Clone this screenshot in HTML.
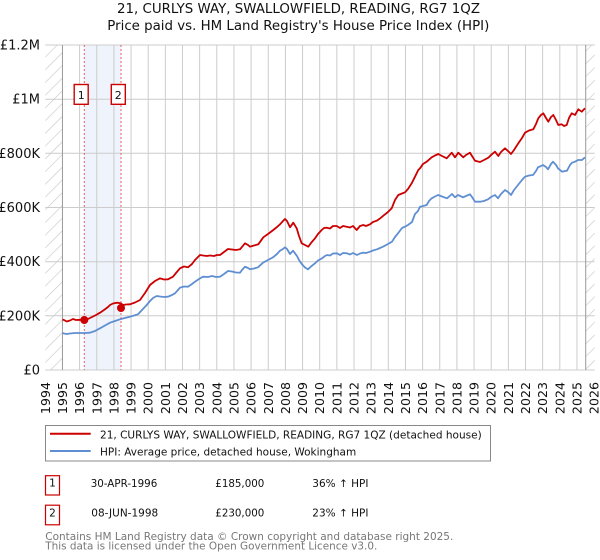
<!DOCTYPE html>
<html><head><meta charset="utf-8"><style>
html,body{margin:0;padding:0;background:#fff;}
svg{display:block;font-family:"DejaVu Sans","Liberation Sans",sans-serif;}
</style></head><body>
<svg width="600" height="560" viewBox="0 0 600 560" xmlns="http://www.w3.org/2000/svg">
<defs>
<pattern id="hatch" patternUnits="userSpaceOnUse" width="9" height="9" patternTransform="rotate(45)">
<line x1="0" y1="0" x2="0" y2="9" stroke="#c4c4c4" stroke-width="1.2"/>
</pattern>
</defs>
<text x="298.5" y="13" font-size="13" text-anchor="middle" fill="#111" textLength="363" lengthAdjust="spacingAndGlyphs">21, CURLYS WAY, SWALLOWFIELD, READING, RG7 1QZ</text>
<text x="298.3" y="30" font-size="13" text-anchor="middle" fill="#111" textLength="382" lengthAdjust="spacingAndGlyphs">Price paid vs. HM Land Registry's House Price Index (HPI)</text>

<!-- hatched regions -->
<rect x="45.3" y="45" width="17" height="325" fill="url(#hatch)"/>
<rect x="585.7" y="45" width="9" height="325" fill="url(#hatch)"/>
<!-- shaded sale region -->
<rect x="84.3" y="45" width="36.7" height="325" fill="#eef3fc"/>

<!-- gridlines -->
<g stroke="#cccccc" stroke-width="1">
<line x1="45.3" y1="45" x2="594.7" y2="45"/>
<line x1="45.3" y1="99.2" x2="594.7" y2="99.2"/>
<line x1="45.3" y1="153.3" x2="594.7" y2="153.3"/>
<line x1="45.3" y1="207.5" x2="594.7" y2="207.5"/>
<line x1="45.3" y1="261.7" x2="594.7" y2="261.7"/>
<line x1="45.3" y1="315.8" x2="594.7" y2="315.8"/>
<line x1="45.3" y1="370" x2="594.7" y2="370"/>
<line x1="79.6" y1="45" x2="79.6" y2="370"/>
<line x1="96.75" y1="45" x2="96.75" y2="370"/>
<line x1="113.9" y1="45" x2="113.9" y2="370"/>
<line x1="131.05" y1="45" x2="131.05" y2="370"/>
<line x1="148.2" y1="45" x2="148.2" y2="370"/>
<line x1="165.35" y1="45" x2="165.35" y2="370"/>
<line x1="182.5" y1="45" x2="182.5" y2="370"/>
<line x1="199.65" y1="45" x2="199.65" y2="370"/>
<line x1="216.8" y1="45" x2="216.8" y2="370"/>
<line x1="233.95" y1="45" x2="233.95" y2="370"/>
<line x1="251.1" y1="45" x2="251.1" y2="370"/>
<line x1="268.25" y1="45" x2="268.25" y2="370"/>
<line x1="285.4" y1="45" x2="285.4" y2="370"/>
<line x1="302.55" y1="45" x2="302.55" y2="370"/>
<line x1="319.7" y1="45" x2="319.7" y2="370"/>
<line x1="336.85" y1="45" x2="336.85" y2="370"/>
<line x1="354" y1="45" x2="354" y2="370"/>
<line x1="371.15" y1="45" x2="371.15" y2="370"/>
<line x1="388.3" y1="45" x2="388.3" y2="370"/>
<line x1="405.45" y1="45" x2="405.45" y2="370"/>
<line x1="422.6" y1="45" x2="422.6" y2="370"/>
<line x1="439.75" y1="45" x2="439.75" y2="370"/>
<line x1="456.9" y1="45" x2="456.9" y2="370"/>
<line x1="474.05" y1="45" x2="474.05" y2="370"/>
<line x1="491.2" y1="45" x2="491.2" y2="370"/>
<line x1="508.35" y1="45" x2="508.35" y2="370"/>
<line x1="525.5" y1="45" x2="525.5" y2="370"/>
<line x1="542.65" y1="45" x2="542.65" y2="370"/>
<line x1="559.8" y1="45" x2="559.8" y2="370"/>
<line x1="576.95" y1="45" x2="576.95" y2="370"/>
</g>
<line x1="62.45" y1="45" x2="62.45" y2="370" stroke="#999" stroke-width="1"/>
<line x1="585.7" y1="45" x2="585.7" y2="370" stroke="#999" stroke-width="1"/>

<!-- sale lines -->
<line x1="84.3" y1="45" x2="84.3" y2="370" stroke="#e86060" stroke-width="1" stroke-dasharray="2,2"/>
<line x1="121" y1="45" x2="121" y2="370" stroke="#e86060" stroke-width="1" stroke-dasharray="2,2"/>

<!-- HPI line -->
<polyline fill="none" stroke="#5f8fd2" stroke-width="1.8" stroke-linejoin="round" points="62.5,333 64,333.5 66.7,334 70,333.5 75,333 80,333 85,333 90,332.7 95,331 100,328.3 105,325.5 110,322.7 115,321 120,319.3 125,318 130,316.7 134,315.5 138,314.3 142,310 146.7,305 150,301 153,298 156.7,296 160,296.5 164,297 168,296.7 172,295 175,293.3 178,290 180,287.7 184,286.5 188,286.7 192,284 195,281.7 199,279 203,276.7 208,277 212,276 216,277 220,276.7 224,274 228,271 232,271.5 236,272.5 240,272.7 242,270 245,266.7 248,268 250,269.3 254,268.5 258,267.3 263,262.7 268,260 273,257.3 277,254 280,250.7 283,249 285,247.3 287,249 290,254 293,250.7 297,256 299,260 302,264.3 305,267.5 308,269.3 311,266.5 315,263.3 318,260.5 322,258.3 325,256 327,255 330,255.5 333,253.5 337,253.3 340,255 343,253 347,253.3 350,254.5 353,253 357,255 360,253.5 363,252.7 366,253 370,251.7 373,250.5 377,249.3 380,248 383,246.7 388,244 392,241.7 395,237 398,233.3 402,228 405,226.7 408,225 412,222 415,214 418,211 420,206.7 423,206 426.7,205 429,201 431.7,198.3 435,196.5 438,195 442,196.5 447,198.3 452,194 455,197.3 458,195 463,197.3 466,196 470,194.3 472,197 475,201.7 480,201.7 484,201 488,199.3 491,197 495,195 498,198.3 501,194 505,190 508,192 511,195 514,190 518,185 522,180 525,176.7 529,175.5 533,175 536,171 538,167.3 541,166 543,165 546,167 548,169.3 551,164 553,161.7 556,165 558,168.3 562,171.7 565,171 567,170.7 570,165 572,162.7 575,161.7 578,160 582,160 585,157.3"/>

<!-- price paid line -->
<polyline fill="none" stroke="#cc0000" stroke-width="1.8" stroke-linejoin="round" points="62.5,319.5 64,320 66.7,321.5 70,320.5 73,319 76,320 80,319.8 84.3,320 88,319 92,317 96,315 100,312.7 104,310 108,307 110,305 113,303.5 116.7,302.7 119,303 121,303.5 123,305 126,304.5 130,304.3 135,302.5 140,300 145,293 150,285 155,281 160,278.3 164,279.5 168,279.3 173,276.7 176,273 180,268.3 184,266.5 188,267.3 192,264 195,260 200,255 203,255.5 206.7,256 210,255.5 214,256 217,255 220,255 224,252 228,249 232,249.5 236,250 240,249.3 245,243.3 248,245 250,246.7 254,245.5 258.3,244.3 263.3,237.3 268,234 273.3,230 277,227 280,224.3 283,221 285,219 287,221 290,227.3 293.3,222.7 296.7,228.3 299,236 301.7,243.3 305,245 308.3,246.7 311,243 315,238.3 318,234 321.7,230 324,228 326.7,227.7 330,228.5 333,226 336.7,226 340,228 343,226 346.7,226.7 350,227.5 353,226 356.7,230 360,226 363.3,225 366,226 370,224.3 373,222 376.7,220.7 380,218.5 383.3,215.7 388,212 391.7,208.3 395,200 398.3,195 402,193.5 405,192.3 408,189 411.7,183.3 415,176.7 418.3,170 420,168.3 423,164 426.7,161.7 431.7,157.3 435,155.5 438.3,154 442,156 446.7,158.3 451.7,152.7 455,157.3 458.3,152.7 463.3,157.3 466,155 470,152.7 472,156 475,160.7 480,162 484,160 488.3,157.7 491,155 495,151.7 498.3,156 501,152 505,148.3 508,151 511,154 514,150 518.3,143.3 522,138 525,132.7 529,130.5 533.3,129.3 536,124 538.3,118.3 541,115 543.3,113.3 546,118 548.3,121.7 551,117 553.3,115 556,120 558.3,125 561.7,124.3 564,126 566.7,125 569,118 571.7,113.3 575,115 578.3,109.3 581.7,111.7 585,108.3"/>

<!-- sale markers -->
<circle cx="84.3" cy="320" r="4" fill="#cc0000"/>
<circle cx="121" cy="308" r="4" fill="#cc0000"/>

<!-- marker boxes -->
<rect x="74.2" y="84.5" width="14" height="19.8" fill="#fff" stroke="#cc0000" stroke-width="1.4"/>
<text x="81.2" y="99" font-size="11" text-anchor="middle" fill="#111">1</text>
<rect x="111.3" y="84.5" width="14" height="19.8" fill="#fff" stroke="#cc0000" stroke-width="1.4"/>
<text x="118.3" y="99" font-size="11" text-anchor="middle" fill="#111">2</text>

<!-- y labels -->
<g font-size="13" fill="#111" text-anchor="end">
<text x="40" y="49.5">£1.2M</text>
<text x="40" y="103.7">£1M</text>
<text x="40" y="157.8">£800K</text>
<text x="40" y="212">£600K</text>
<text x="40" y="266.2">£400K</text>
<text x="40" y="320.3">£200K</text>
<text x="40" y="374.5">£0</text>
</g>

<!-- x labels -->
<g font-size="12.6" fill="#111" text-anchor="end">
<text transform="translate(49.8,382) rotate(-90)">1994</text>
<text transform="translate(66.95,382) rotate(-90)">1995</text>
<text transform="translate(84.1,382) rotate(-90)">1996</text>
<text transform="translate(101.25,382) rotate(-90)">1997</text>
<text transform="translate(118.4,382) rotate(-90)">1998</text>
<text transform="translate(135.55,382) rotate(-90)">1999</text>
<text transform="translate(152.7,382) rotate(-90)">2000</text>
<text transform="translate(169.85,382) rotate(-90)">2001</text>
<text transform="translate(187,382) rotate(-90)">2002</text>
<text transform="translate(204.15,382) rotate(-90)">2003</text>
<text transform="translate(221.3,382) rotate(-90)">2004</text>
<text transform="translate(238.45,382) rotate(-90)">2005</text>
<text transform="translate(255.6,382) rotate(-90)">2006</text>
<text transform="translate(272.75,382) rotate(-90)">2007</text>
<text transform="translate(289.9,382) rotate(-90)">2008</text>
<text transform="translate(307.05,382) rotate(-90)">2009</text>
<text transform="translate(324.2,382) rotate(-90)">2010</text>
<text transform="translate(341.35,382) rotate(-90)">2011</text>
<text transform="translate(358.5,382) rotate(-90)">2012</text>
<text transform="translate(375.65,382) rotate(-90)">2013</text>
<text transform="translate(392.8,382) rotate(-90)">2014</text>
<text transform="translate(409.95,382) rotate(-90)">2015</text>
<text transform="translate(427.1,382) rotate(-90)">2016</text>
<text transform="translate(444.25,382) rotate(-90)">2017</text>
<text transform="translate(461.4,382) rotate(-90)">2018</text>
<text transform="translate(478.55,382) rotate(-90)">2019</text>
<text transform="translate(495.7,382) rotate(-90)">2020</text>
<text transform="translate(512.85,382) rotate(-90)">2021</text>
<text transform="translate(530,382) rotate(-90)">2022</text>
<text transform="translate(547.15,382) rotate(-90)">2023</text>
<text transform="translate(564.3,382) rotate(-90)">2024</text>
<text transform="translate(581.45,382) rotate(-90)">2025</text>
<text transform="translate(598.6,382) rotate(-90)">2026</text>
</g>

<!-- legend -->
<rect x="45.5" y="425.5" width="445" height="35.5" fill="#fff" stroke="#888" stroke-width="1"/>
<line x1="50" y1="433.7" x2="90.7" y2="433.7" stroke="#cc0000" stroke-width="2"/>
<line x1="50" y1="451" x2="90.7" y2="451" stroke="#5f8fd2" stroke-width="2"/>
<g font-size="10.5" fill="#111">
<text x="100" y="438.3" textLength="381.7" lengthAdjust="spacingAndGlyphs">21, CURLYS WAY, SWALLOWFIELD, READING, RG7 1QZ (detached house)</text>
<text x="100" y="455.3">HPI: Average price, detached house, Wokingham</text>
</g>

<!-- table -->
<rect x="45.5" y="475.7" width="14" height="19.3" fill="#fff" stroke="#cc0000" stroke-width="1.2"/>
<rect x="45.5" y="505.2" width="14" height="19.6" fill="#fff" stroke="#cc0000" stroke-width="1.2"/>
<g font-size="10.5" fill="#111">
<text x="52.5" y="486.7" text-anchor="middle">1</text>
<text x="90.7" y="487" textLength="66.6" lengthAdjust="spacingAndGlyphs">30-APR-1996</text>
<text x="215.3" y="487" textLength="49" lengthAdjust="spacingAndGlyphs">£185,000</text>
<text x="312.3" y="487">36% ↑ HPI</text>
<text x="52.5" y="516.5" text-anchor="middle">2</text>
<text x="91.3" y="516.7">08-JUN-1998</text>
<text x="215.3" y="516.7" textLength="49" lengthAdjust="spacingAndGlyphs">£230,000</text>
<text x="312.3" y="516.7">23% ↑ HPI</text>
</g>

<!-- footer -->
<g font-size="10.4" fill="#777">
<text x="45.3" y="540" textLength="408" lengthAdjust="spacingAndGlyphs">Contains HM Land Registry data © Crown copyright and database right 2025.</text>
<text x="45.3" y="549.5" textLength="332" lengthAdjust="spacingAndGlyphs">This data is licensed under the Open Government Licence v3.0.</text>
</g>
</svg>
</body></html>
